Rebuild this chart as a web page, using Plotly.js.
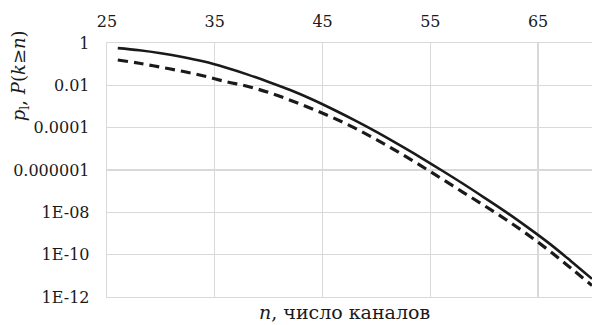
<!DOCTYPE html>
<html>
<head>
<meta charset="utf-8">
<script src="https://cdn.plot.ly/plotly-3.0.1.min.js"></script>
<style>
  html, body { margin: 0; padding: 0; background: #fff; }
  #chart { width: 592px; height: 325px; }
</style>
</head>
<body>
<div id="chart"></div>
<script>
// Number of channels
const channels = [26, 28, 30, 32, 34, 36, 38, 40, 42, 44, 46, 48,
                  50, 52, 54, 56, 58, 60, 62, 64, 66, 68, 70];

// Loss probability p_l (solid line)
const lossProb = [5.75e-1, 4.57e-1, 3.31e-1, 2.19e-1, 1.32e-1, 6.9e-2, 3.3e-2,
                  1.45e-2, 6.0e-3, 2.2e-3, 7.2e-4, 2.2e-4, 6.3e-5, 1.66e-5,
                  4.2e-6, 1.0e-6, 2.3e-7, 5.0e-8, 1.05e-8, 2.0e-9, 3.5e-10,
                  5.2e-11, 7.2e-12];

// Tail probability P(k >= n) (dashed line)
const tailProb = [1.58e-1, 1.10e-1, 7.2e-2, 4.6e-2, 2.75e-2, 1.51e-2, 9.1e-3,
                  4.6e-3, 2.0e-3, 7.9e-4, 2.9e-4, 9.5e-5, 2.75e-5, 7.2e-6,
                  1.74e-6, 4.0e-7, 9.1e-8, 2.1e-8, 4.6e-9, 9.1e-10, 1.58e-10,
                  2.4e-11, 3.5e-12];

// Axis ticks
const xTicks = [25, 35, 45, 55, 65];
const yTickVals = [1, 1e-2, 1e-4, 1e-6, 1e-8, 1e-10, 1e-12];
const yTickText = ['1', '0.01', '0.0001', '0.000001', '1E-08', '1E-10', '1E-12'];

const FONT = 'DejaVu Serif';
const GRID = '#d9d9d9';
const INK = '#1a1a1a';

const traces = [
  {
    x: channels, y: lossProb, type: 'scatter', mode: 'lines',
    line: { color: INK, width: 2.6, shape: 'spline', smoothing: 1 },
    hoverinfo: 'skip'
  },
  {
    x: channels, y: tailProb, type: 'scatter', mode: 'lines',
    line: { color: INK, width: 3.2, dash: '10px,6px', shape: 'spline', smoothing: 1 },
    hoverinfo: 'skip'
  }
];

const layout = {
  width: 592, height: 325,
  margin: { l: 107, r: 0, t: 43, b: 28 },
  paper_bgcolor: '#fff', plot_bgcolor: '#fff',
  showlegend: false,
  font: { family: FONT, size: 16, color: INK },
  xaxis: {
    side: 'top', range: [25, 70],
    tickvals: xTicks, ticks: '', ticklabelstandoff: 8,
    showgrid: true, gridcolor: GRID, gridwidth: 1.3,
    showline: true, linecolor: GRID, linewidth: 1.3, mirror: true,
    zeroline: false, fixedrange: true
  },
  yaxis: {
    type: 'log', range: [-12, 0],
    tickvals: yTickVals, ticktext: yTickText, ticks: '', ticklabelstandoff: 13,
    showgrid: true, gridcolor: GRID, gridwidth: 1.3,
    showline: true, linecolor: GRID, linewidth: 1.3,
    zeroline: false, fixedrange: true
  },
  annotations: [
    {
      text: '<i>p</i><sub>l</sub>, <i>P</i>(<i>k</i>≥<i>n</i>)',
      xref: 'paper', yref: 'paper', x: -0.179, y: 0.87,
      xanchor: 'center', yanchor: 'middle', textangle: -90,
      showarrow: false, font: { family: FONT, size: 18, color: INK }
    },
    {
      text: '<i>n</i>, число каналов',
      xref: 'paper', yref: 'paper', x: 0.49, y: 0,
      yshift: -15, xanchor: 'center', yanchor: 'middle',
      showarrow: false, font: { family: FONT, size: 19, color: INK }
    }
  ]
};

Plotly.newPlot('chart', traces, layout, { staticPlot: true, displayModeBar: false });
</script>
</body>
</html>
